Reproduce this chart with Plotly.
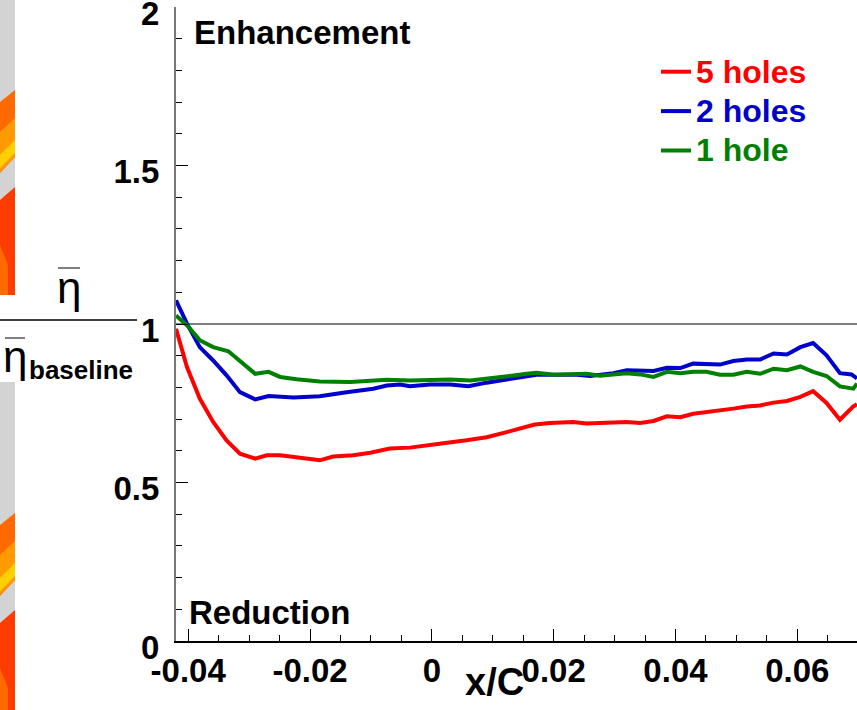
import plotly.graph_objects as go

# ---- data ----
x_5holes = [-0.0420, -0.0402, -0.0381, -0.0359, -0.0337, -0.0315, -0.0290, -0.0271, -0.0249, -0.0205,
            -0.0184, -0.0162, -0.0129, -0.0101, -0.0069, -0.0036, -0.0019, 0.0019, 0.0057, 0.0090,
            0.0123, 0.0150, 0.0169, 0.0194, 0.0232, 0.0254, 0.0276, 0.0298, 0.0320, 0.0342,
            0.0364, 0.0386, 0.0408, 0.0429, 0.0451, 0.0473, 0.0495, 0.0517, 0.0539, 0.0561,
            0.0583, 0.0605, 0.0626, 0.0648, 0.0670, 0.0692, 0.0698]
y_5holes = [0.985, 0.864, 0.765, 0.691, 0.633, 0.591, 0.575, 0.586, 0.586, 0.575,
            0.570, 0.582, 0.586, 0.594, 0.607, 0.610, 0.615, 0.624, 0.633, 0.643,
            0.659, 0.673, 0.683, 0.688, 0.691, 0.686, 0.688, 0.690, 0.691, 0.688,
            0.694, 0.709, 0.706, 0.717, 0.722, 0.725, 0.733, 0.740, 0.743, 0.752,
            0.757, 0.770, 0.788, 0.751, 0.698, 0.740, 0.747]

x_2holes = [-0.0420, -0.0402, -0.0381, -0.0359, -0.0337, -0.0315, -0.0290, -0.0268, -0.0227, -0.0184,
            -0.0140, -0.0096, -0.0074, -0.0052, -0.0036, -0.0003, 0.0030, 0.0060, 0.0090, 0.0123,
            0.0150, 0.0172, 0.0205, 0.0238, 0.0260, 0.0276, 0.0298, 0.0320, 0.0342, 0.0364,
            0.0386, 0.0408, 0.0429, 0.0451, 0.0473, 0.0495, 0.0517, 0.0539, 0.0561, 0.0583,
            0.0605, 0.0626, 0.0648, 0.0670, 0.0689, 0.0698]
y_2holes = [1.075, 1.001, 0.927, 0.885, 0.838, 0.785, 0.762, 0.773, 0.768, 0.772,
            0.785, 0.796, 0.806, 0.809, 0.804, 0.809, 0.809, 0.804, 0.815, 0.824,
            0.833, 0.840, 0.840, 0.840, 0.836, 0.840, 0.845, 0.854, 0.853, 0.852,
            0.862, 0.861, 0.875, 0.875, 0.872, 0.883, 0.888, 0.888, 0.907, 0.904,
            0.927, 0.940, 0.901, 0.845, 0.841, 0.828]

x_1hole = [-0.0420, -0.0402, -0.0381, -0.0359, -0.0334, -0.0312, -0.0290, -0.0268, -0.0249, -0.0222,
           -0.0184, -0.0134, -0.0096, -0.0074, -0.0036, -0.0003, 0.0030, 0.0063, 0.0096, 0.0128,
           0.0156, 0.0172, 0.0200, 0.0232, 0.0254, 0.0276, 0.0298, 0.0320, 0.0342, 0.0364,
           0.0386, 0.0408, 0.0429, 0.0451, 0.0473, 0.0495, 0.0517, 0.0539, 0.0561, 0.0583,
           0.0605, 0.0626, 0.0648, 0.0670, 0.0692, 0.0698]
y_1hole = [1.027, 0.996, 0.949, 0.927, 0.914, 0.880, 0.843, 0.849, 0.833, 0.826,
           0.819, 0.817, 0.820, 0.824, 0.822, 0.824, 0.825, 0.822, 0.828, 0.836,
           0.843, 0.846, 0.840, 0.841, 0.843, 0.837, 0.840, 0.845, 0.841, 0.833,
           0.849, 0.845, 0.849, 0.849, 0.840, 0.840, 0.849, 0.843, 0.859, 0.854,
           0.866, 0.849, 0.836, 0.803, 0.796, 0.812]

series_names = ["5 holes", "2 holes", "1 hole"]
series_colors = ["#ff0000", "#0000cc", "#008000"]
x_tickvals = [-0.04, -0.02, 0, 0.02, 0.04, 0.06]
x_ticktext = ["-0.04", "-0.02", "0", "0.02", "0.04", "0.06"]
y_tickvals = [0, 0.5, 1, 1.5, 2]
y_ticktext = ["0", "0.5", "1", "1.5", "2"]

# ---- layout geometry (pixels) ----
W, H = 857, 710
ML, MR, MT, MB = 176, 0, 7, 69
PW, PH = W - ML - MR, H - MT - MB


def px(xpix):
    return (xpix - ML) / PW


def py(ypix):
    return (H - MB - ypix) / PH


FONT = "Liberation Sans, Arial, sans-serif"

fig = go.Figure()
for xs, ys, nm, col in zip([x_5holes, x_2holes, x_1hole], [y_5holes, y_2holes, y_1hole],
                           series_names, series_colors):
    fig.add_trace(go.Scatter(
        x=xs, y=ys, mode="lines",
        name=f"<span style='color:{col};font-size:32px'>{nm}</span>",
        line=dict(color=col, width=4), cliponaxis=True))

shapes = []
# reference line at 1
shapes.append(dict(type="line", xref="paper", yref="y", x0=0, x1=1, y0=1, y1=1,
                   line=dict(color="black", width=1), layer="below"))


def poly(points, color):
    path = "M " + " L ".join(f"{px(a):.5f},{py(b):.5f}" for a, b in points) + " Z"
    return dict(type="path", xref="paper", yref="paper", path=path,
                fillcolor=color, line=dict(width=0), layer="above")


# decorative strip on the left (part of neighbouring figure)
shapes.append(poly([(0, 0), (15, 0), (15, 295), (0, 295)], "#d3d3d3"))
shapes.append(poly([(0, 382), (15, 382), (15, 710), (0, 710)], "#d3d3d3"))
for off in (0, 423):
    shapes.append(poly([(15, 90 + off), (0, 102 + off), (0, 173 + off), (15, 157 + off)], "#ff6a00"))
    shapes.append(poly([(15, 118 + off), (0, 132 + off), (0, 172 + off), (15, 157 + off)], "#ff9a00"))
    shapes.append(poly([(15, 140 + off), (0, 155 + off), (0, 168 + off), (15, 153 + off)], "#ffd000"))
    shapes.append(poly([(15, 187 + off), (0, 200 + off), (0, min(295 + off, 710)), (15, min(295 + off, 710))], "#ff3c00"))
    shapes.append(poly([(0, 245 + off), (8, 265 + off), (8, min(295 + off, 710)), (0, min(295 + off, 710))], "#ff6a00"))

# fraction bar of y-axis title
shapes.append(dict(type="line", xref="paper", yref="paper", x0=px(0), x1=px(137),
                   y0=py(320), y1=py(320), line=dict(color="black", width=1.5)))
# overbars
shapes.append(dict(type="line", xref="paper", yref="paper", x0=px(58), x1=px(80),
                   y0=py(268), y1=py(268), line=dict(color="#555555", width=1.5)))
shapes.append(dict(type="line", xref="paper", yref="paper", x0=px(5), x1=px(25),
                   y0=py(338), y1=py(338), line=dict(color="#555555", width=1.5)))

annotations = [
    dict(text="<b>Enhancement</b>", x=px(192), y=py(33), xref="paper", yref="paper",
         xanchor="left", yanchor="middle", showarrow=False, font=dict(size=33, color="black", family=FONT)),
    dict(text="<b>Reduction</b>", x=px(187), y=py(612), xref="paper", yref="paper",
         xanchor="left", yanchor="middle", showarrow=False, font=dict(size=33, color="black", family=FONT)),
    dict(text="<b>x/C</b>", x=px(494), y=py(682), xref="paper", yref="paper",
         xanchor="center", yanchor="middle", showarrow=False, font=dict(size=38, color="black", family=FONT)),
    dict(text="η", x=px(69), y=py(287), xref="paper", yref="paper",
         xanchor="center", yanchor="middle", showarrow=False, font=dict(size=44, color="black", family=FONT)),
    dict(text="η", x=px(15), y=py(356), xref="paper", yref="paper",
         xanchor="center", yanchor="middle", showarrow=False, font=dict(size=44, color="black", family=FONT)),
    dict(text="<b>baseline</b>", x=px(27), y=py(370), xref="paper", yref="paper",
         xanchor="left", yanchor="middle", showarrow=False, font=dict(size=26, color="black", family=FONT)),
]

fig.update_layout(
    width=W, height=H,
    margin=dict(l=ML, r=MR, t=MT, b=MB, pad=0, autoexpand=False),
    paper_bgcolor="white", plot_bgcolor="white",
    font=dict(family=FONT, color="black"),
    shapes=shapes, annotations=annotations,
    showlegend=True,
    legend=dict(x=px(656), y=py(47), xanchor="left", yanchor="top",
                bgcolor="rgba(0,0,0,0)", borderwidth=0,
                font=dict(size=28, family=FONT, weight="bold"), tracegroupgap=0),
    xaxis=dict(range=[-0.042, 0.0698], tickmode="array", tickvals=x_tickvals, ticktext=x_ticktext,
               automargin=False,
               ticks="inside", ticklen=12, tickwidth=1, tickcolor="black",
               showline=True, linecolor="black", linewidth=1.5, mirror=False,
               showgrid=False, zeroline=False,
               tickfont=dict(size=33, family=FONT, weight="bold", color="black"),
               minor=dict(dtick=0.005, tick0=0, ticks="inside", ticklen=6, tickcolor="black", showgrid=False)),
    yaxis=dict(range=[0, 2], tickmode="array", tickvals=y_tickvals, ticktext=y_ticktext,
               automargin=False, ticklabelstandoff=8, ticklabelshift=6, ticklabeloverflow="allow",
               ticks="inside", ticklen=12, tickwidth=1, tickcolor="black",
               showline=True, linecolor="#777777", linewidth=2, mirror=False,
               showgrid=False, zeroline=False,
               tickfont=dict(size=33, family=FONT, weight="bold", color="black"),
               minor=dict(dtick=0.1, tick0=0, ticks="inside", ticklen=6, tickcolor="black", showgrid=False)),
)

fig.write_html("out.html", config={"displayModeBar": False},
               post_script="document.body.style.margin='0';document.body.style.overflow='hidden';")
